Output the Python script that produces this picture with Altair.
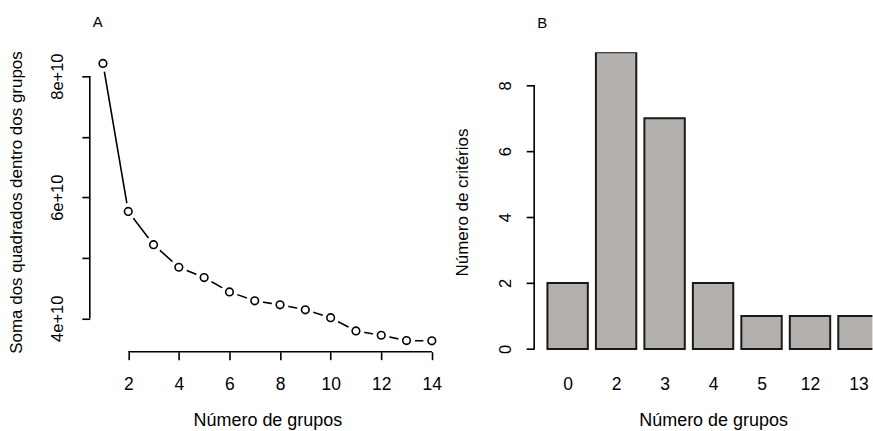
import json
import altair as alt
import pandas as pd

# ---------------- data ----------------
groups = list(range(1, 15))
wss = [8.21e10, 5.765e10, 5.216e10, 4.843e10, 4.673e10, 4.436e10, 4.288e10,
       4.222e10, 4.14e10, 4.01e10, 3.791e10, 3.72e10, 3.631e10, 3.628e10]
x_ticks_A = [2, 4, 6, 8, 10, 12, 14]
y_ticks_A = [4e10, 5e10, 6e10, 7e10, 8e10]

bar_labels = ["0", "2", "3", "4", "5", "12", "13"]
bar_counts = [2, 9, 7, 2, 1, 1, 1]
y_ticks_B = [0, 2, 4, 6, 8]

# ---------------- style ----------------
FONT = "Liberation Sans"
H = 300
W_A = 356
W_B = 339
UNIT_B = 40.49  # px per bar unit (R barplot layout: width 1, space 0.2)

axis_common = dict(domain=False, grid=False, tickSize=8, tickWidth=1.6,
                   tickColor="black", labelFont=FONT,
                   labelColor="black", titleFont=FONT,
                   titleColor="black", titleFontWeight="normal",
                   labelFlush=False, labelOverlap=False)
x_sizes = dict(labelFontSize=17.5, titleFontSize=18)
y_sizes = dict(labelFontSize=16.5, titleFontSize=17)

# ---------------- panel A ----------------
dfA = pd.DataFrame({"k": groups, "wss": wss})
xA = alt.Scale(domain=[0.48, 14.52], nice=False, zero=False)
yA = alt.Scale(domain=[3.448e10, 8.393e10], nice=False, zero=False)

x_axis_A = alt.Axis(values=x_ticks_A, labelBaseline="alphabetic", labelPadding=29.4,
                    title="Número de grupos", titleX=W_A / 2, titleY=74.3,
                    titleBaseline="alphabetic", titleAlign="center",
                    **axis_common, **x_sizes)
y_axis_A = alt.Axis(values=y_ticks_A,
                    labelExpr="datum.value % 2e10 == 0 ? (datum.value/1e10) + 'e+10' : ''",
                    labelAngle=270, labelAlign="center", labelBaseline="alphabetic",
                    labelPadding=19,
                    title="Soma dos quadrados dentro dos grupos", titleAngle=270,
                    titleX=-68, titleY=H / 2, titleBaseline="alphabetic",
                    titleAlign="center", **axis_common, **y_sizes)

def XA(f):
    return alt.X(f, scale=xA, axis=x_axis_A, title="Número de grupos")

def YA(f):
    return alt.Y(f, scale=yA, axis=y_axis_A, title="Soma dos quadrados dentro dos grupos")

baseA = alt.Chart(dfA)
lineA = baseA.mark_line(color="black", strokeWidth=1.6).encode(
    x=XA("k:Q"), y=YA("wss:Q"))
haloA = baseA.mark_circle(color="white", size=290, opacity=1).encode(
    x=XA("k:Q"), y=YA("wss:Q"))
ptsA = baseA.mark_point(shape="circle", filled=False, color="black", size=58,
                        strokeWidth=1.6, opacity=1).encode(
    x=XA("k:Q"), y=YA("wss:Q"))

yruleA = alt.Chart(pd.DataFrame({"a": [y_ticks_A[0]], "b": [y_ticks_A[-1]]})).mark_rule(
    color="black", strokeWidth=1.6).encode(
    x=alt.value(0), y=YA("a:Q"), y2="b:Q")
xruleA = alt.Chart(pd.DataFrame({"a": [x_ticks_A[0]], "b": [x_ticks_A[-1]]})).mark_rule(
    color="black", strokeWidth=1.6).encode(
    y=alt.value(H), x=XA("a:Q"), x2="b:Q")

panelA = alt.layer(lineA, haloA, ptsA, yruleA, xruleA).properties(
    width=W_A, height=H,
    title=alt.TitleParams("A", anchor="start", frame="group", fontSize=15, font=FONT,
                          fontWeight="normal", color="black", offset=8.6, dx=3,
                          baseline="alphabetic"))

# ---------------- panel B ----------------
dfB = pd.DataFrame({"label": bar_labels, "count": bar_counts})
xB = alt.Scale(domain=[-0.128, -0.128 + W_B / UNIT_B], nice=False, zero=False)
yB = alt.Scale(domain=[-0.085, 9.0], nice=False, zero=False)

centers = [0.7 + 1.2 * i for i in range(len(bar_labels))]
x_axis_B = alt.Axis(values=centers,
                    labelExpr=json.dumps(bar_labels) + "[round((datum.value-0.7)/1.2)]",
                    labelBaseline="alphabetic", labelPadding=29.4, tickOpacity=0,
                    title="Número de grupos", titleX=179.3, titleY=74.3,
                    titleBaseline="alphabetic", titleAlign="center",
                    **axis_common, **x_sizes)
y_axis_B = alt.Axis(values=y_ticks_B, labelAngle=270, labelAlign="center",
                    labelBaseline="alphabetic", labelPadding=15.5,
                    title="Número de critérios", titleAngle=270, titleX=-67,
                    titleY=H / 2, titleBaseline="alphabetic", titleAlign="center",
                    **axis_common, **y_sizes)

def YB(f):
    return alt.Y(f, scale=yB, axis=y_axis_B, title="Número de critérios")

bars = alt.Chart(dfB).transform_window(idx="row_number()").transform_calculate(
    left="(datum.idx-1)*1.2+0.2", right="(datum.idx-1)*1.2+1.2", base="0"
).mark_bar(fill="#b3b0ad", stroke="#1a1a1a", strokeWidth=2, clip=True).encode(
    x=alt.X("left:Q", scale=xB, axis=x_axis_B, title="Número de grupos"), x2="right:Q",
    y=YB("count:Q"), y2="base:Q")

yruleB = alt.Chart(pd.DataFrame({"a": [y_ticks_B[0]], "b": [y_ticks_B[-1]]})).mark_rule(
    color="black", strokeWidth=1.6).encode(
    x=alt.value(0), y=YB("a:Q"), y2="b:Q")

panelB = alt.layer(bars, yruleB).properties(
    width=W_B, height=H,
    title=alt.TitleParams("B", anchor="start", frame="group", fontSize=15, font=FONT,
                          fontWeight="normal", color="black", offset=9.1, dx=3,
                          baseline="alphabetic"))

chart = alt.hconcat(panelA, panelB, spacing=89.4, bounds="flush").properties(
    padding={"left": 7, "top": 14, "right": 0, "bottom": 0},
    background="white"
).configure_view(stroke=None)

chart.save("out.html", embed_options={"renderer": "svg", "actions": False})
